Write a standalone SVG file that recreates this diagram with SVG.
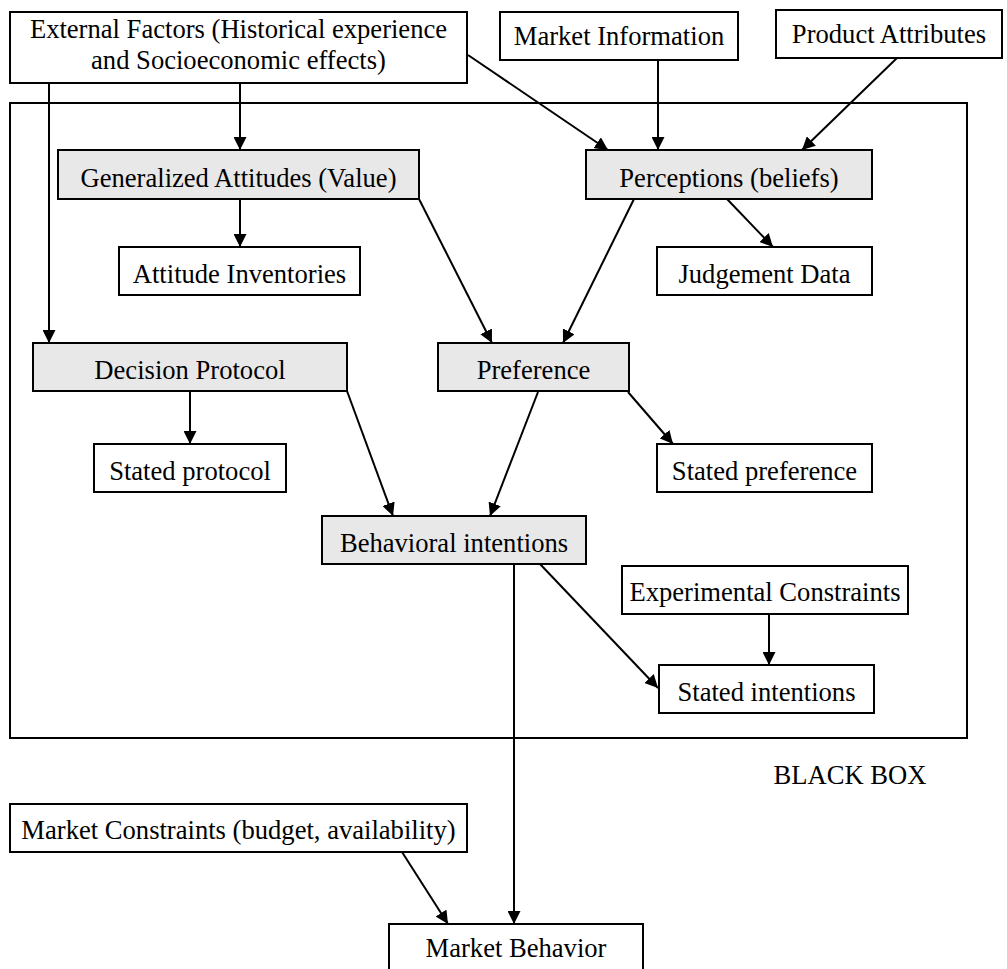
<svg xmlns="http://www.w3.org/2000/svg" width="1007" height="969" viewBox="0 0 1007 969">
<style>
.b{fill:#fff;stroke:#000;stroke-width:2}
.g{fill:#e8e8e8;stroke:#000;stroke-width:2}
.frame{fill:none;stroke:#000;stroke-width:2}
text{font-family:"Liberation Serif","Times New Roman",serif;font-size:26.6px;fill:#000;text-anchor:middle}
.c line{stroke:#000;stroke-width:2;marker-end:url(#ah)}
</style>
<defs>
<marker id="ah" viewBox="0 0 13 13" refX="13" refY="6.5" markerWidth="13" markerHeight="13" markerUnits="userSpaceOnUse" orient="auto">
<path d="M0,0 L13,6.5 L0,13 Z" fill="#000"/>
</marker>
</defs>
<rect width="1007" height="969" fill="#fff"/>
<g id="blackbox">
<rect class="frame" x="10" y="103" width="957" height="635"/>
<text x="850" y="784">BLACK BOX</text>
</g>
<g id="external"><rect class="b" x="10" y="12" width="457" height="71"/><text x="238.5" y="38">External Factors (Historical experience</text><text x="238.5" y="69">and Socioeconomic effects)</text></g>
<g id="marketinfo"><rect class="b" x="500" y="12" width="238" height="48"/><text x="619" y="45">Market Information</text></g>
<g id="productattr"><rect class="b" x="776" y="10" width="226" height="48"/><text x="889" y="43">Product Attributes</text></g>
<g id="genatt"><rect class="g" x="58" y="150" width="361" height="49"/><text x="238.5" y="187">Generalized Attitudes (Value)</text></g>
<g id="perceptions"><rect class="g" x="586" y="150" width="286" height="49"/><text x="729" y="187">Perceptions (beliefs)</text></g>
<g id="attinv"><rect class="b" x="119" y="247" width="241" height="48"/><text x="239.5" y="283">Attitude Inventories</text></g>
<g id="judgement"><rect class="b" x="657" y="247" width="215" height="48"/><text x="764.5" y="283">Judgement Data</text></g>
<g id="decision"><rect class="g" x="33" y="343" width="314" height="48"/><text x="190" y="379">Decision Protocol</text></g>
<g id="preference"><rect class="g" x="438" y="343" width="191" height="48"/><text x="533.5" y="379">Preference</text></g>
<g id="statedprot"><rect class="b" x="94" y="444" width="192" height="48"/><text x="190" y="480">Stated protocol</text></g>
<g id="statedpref"><rect class="b" x="657" y="444" width="215" height="48"/><text x="764.5" y="480">Stated preference</text></g>
<g id="behav"><rect class="g" x="322" y="516" width="264" height="48"/><text x="454" y="552">Behavioral intentions</text></g>
<g id="expc"><rect class="b" x="622" y="566" width="286" height="48"/><text x="765" y="601">Experimental Constraints</text></g>
<g id="statedint"><rect class="b" x="659" y="665" width="215" height="48"/><text x="766.5" y="701">Stated intentions</text></g>
<g id="marketcons"><rect class="b" x="10" y="804" width="457" height="48"/><text x="238.5" y="839">Market Constraints (budget, availability)</text></g>
<g id="marketbeh"><rect class="b" x="389" y="924" width="254" height="60"/><text x="516" y="957">Market Behavior</text></g>
<g class="c" id="connectors">
<line x1="240" y1="83" x2="240" y2="150"/>
<line x1="49" y1="83" x2="49" y2="343"/>
<line x1="468" y1="55" x2="608" y2="150"/>
<line x1="658" y1="60" x2="658" y2="150"/>
<line x1="897" y1="58" x2="802" y2="150"/>
<line x1="240" y1="199" x2="240" y2="247"/>
<line x1="419" y1="199" x2="492" y2="343"/>
<line x1="634" y1="199" x2="563" y2="343"/>
<line x1="727" y1="199" x2="773" y2="247"/>
<line x1="190" y1="391" x2="190" y2="444"/>
<line x1="347" y1="391" x2="393" y2="516"/>
<line x1="538" y1="392" x2="490" y2="516"/>
<line x1="628" y1="392" x2="673" y2="444"/>
<line x1="540" y1="564" x2="658" y2="688"/>
<line x1="769" y1="614" x2="769" y2="665"/>
<line x1="514" y1="564" x2="514" y2="924"/>
<line x1="402" y1="852" x2="448" y2="924"/>
</g>
</svg>
